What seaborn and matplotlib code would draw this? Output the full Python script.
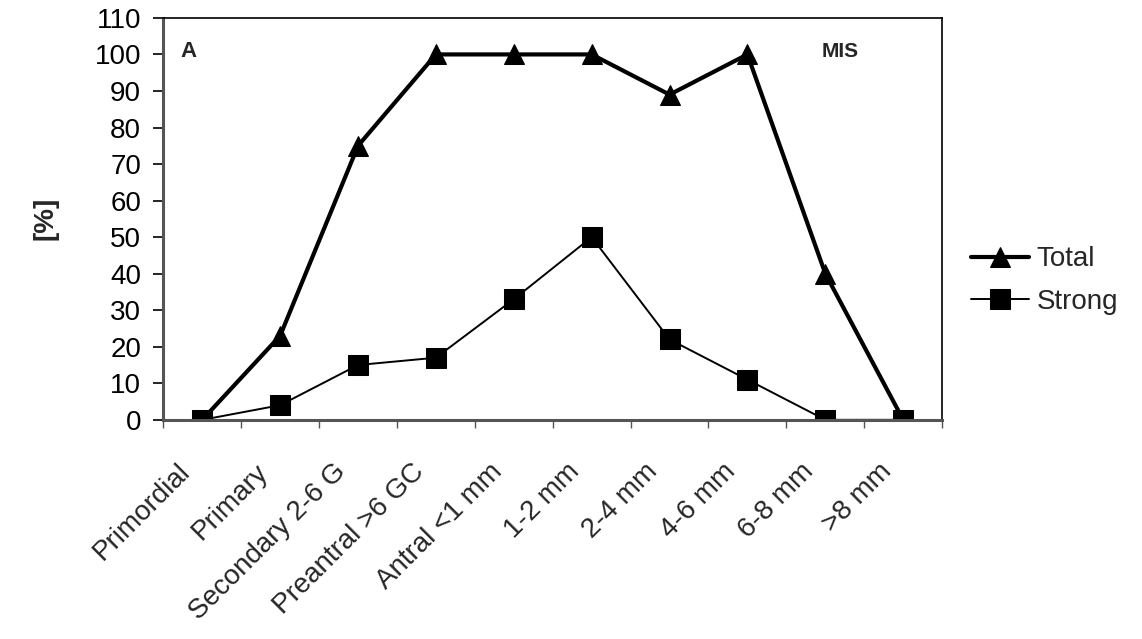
import numpy as np
import pandas as pd
import matplotlib
matplotlib.use("Agg")
import matplotlib.pyplot as plt
import matplotlib.transforms as mtransforms
import seaborn as sns

stages = ['Primordial', 'Primary', 'Secondary 2-6 G', 'Preantral >6 GC', 'Antral <1 mm',
          '1-2 mm', '2-4 mm', '4-6 mm', '6-8 mm', '>8 mm']
total = [0, 23, 75, 100, 100, 100, 89, 100, 40, 0]
strong = [0, 4, 15, 17, 33, 50, 22, 11, 0, 0]

sns.set_style("white")
plt.rcParams['font.family'] = ['Liberation Sans', 'DejaVu Sans']

df = pd.DataFrame({'pos': np.arange(len(stages)), 'total': total, 'strong': strong})

fig, ax = plt.subplots(figsize=(11.42, 6.39), dpi=100)
fig.subplots_adjust(left=0.143, right=0.825, top=0.972, bottom=0.343)

sns.lineplot(data=df, x='pos', y='total', ax=ax, color='black', lw=3.0,
             marker='^', markersize=15, markeredgecolor='black', label='Total')
sns.lineplot(data=df, x='pos', y='strong', ax=ax, color='black', lw=1.4,
             marker='s', markersize=14, markeredgecolor='black', label='Strong')

ax.set_xlim(-0.5, len(stages) - 0.5)
ax.set_ylim(0, 110)
ax.set_yticks(range(0, 111, 10))
ax.tick_params(axis='y', labelsize=20, length=7, width=1.2, direction='out', left=True,
               pad=9, colors='black')

# category labels at centers, tick marks between categories
ax.set_xticks(np.arange(len(stages)))
ax.set_xticklabels(stages, rotation=45, ha='right', va='top', rotation_mode='anchor', fontsize=20)
ax.tick_params(axis='x', which='major', length=0, pad=28)
offset = mtransforms.ScaledTranslation(-18 / 72, 0, fig.dpi_scale_trans)
for lbl in ax.get_xticklabels():
    lbl.set_transform(lbl.get_transform() + offset)
ax.set_xticks(np.arange(-0.5, len(stages)), minor=True)
ax.tick_params(axis='x', which='minor', length=6, width=1.0, direction='out', bottom=True, colors='#555555')

ax.set_xlabel('')
ax.set_ylabel('[%]', fontsize=20, fontweight='bold', labelpad=26)

for side in ['top', 'right']:
    ax.spines[side].set_color('black')
    ax.spines[side].set_linewidth(1.2)
for side in ['left', 'bottom']:
    ax.spines[side].set_color('#555555')
    ax.spines[side].set_linewidth(2.2)

ax.text(0.022, 0.903, 'A', transform=ax.transAxes, fontsize=16, fontweight='bold')
ax.text(0.845, 0.903, 'MIS', transform=ax.transAxes, fontsize=15, fontweight='bold')

ax.legend(loc='center left', bbox_to_anchor=(1.005, 0.346), frameon=False, fontsize=20,
          handlelength=2.1, handletextpad=0.25, labelspacing=0.6)

plt.savefig('out.png', dpi=100)
